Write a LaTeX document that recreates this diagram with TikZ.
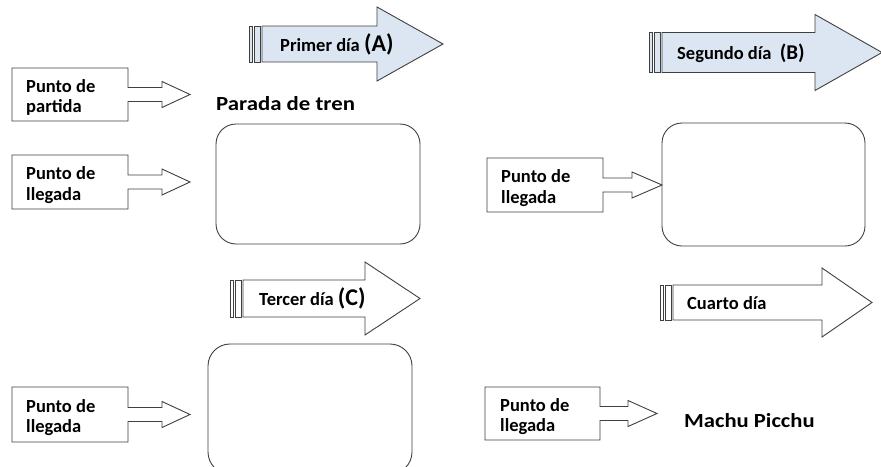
\documentclass[tikz,border=0pt]{standalone}
\usepackage{graphicx}
\usepackage{fontspec}
\setmainfont{Carlito}
\definecolor{arrowblue}{RGB}{220,230,242}
\definecolor{linegray}{RGB}{64,64,64}
\tikzset{
  ol/.style={draw=linegray, line width=0.9pt, line join=miter},
  lbl/.style={inner sep=0pt, font=\bfseries\fontsize{18.5}{20.5}\selectfont},
  calltext/.style={lbl, anchor=west, align=left},
  roundbox/.style={draw=linegray, line width=0.9pt, rounded corners=20pt, minimum width=204pt, inner sep=0pt},
}
% striped arrow: #1 x0, #2 head base x, #3 tip x, #4 yc, #5 body half h, #6 head half h, #7 fill
\newcommand\stripedarrow[7]{%
  \path[ol, fill=#7] (#1,#4-#5) rectangle (#1+3,#4+#5);
  \path[ol, fill=#7] (#1+5,#4-#5) rectangle (#1+11,#4+#5);
  \path[ol, fill=#7] (#1+13,#4-#5) -- (#2,#4-#5) -- (#2,#4-#6) -- (#3,#4)
     -- (#2,#4+#6) -- (#2,#4+#5) -- (#1+13,#4+#5) -- cycle;
}
% callout: #1 x1, #2 y1, #3 x2, #4 y2, #5 head base x, #6 tip x
\newcommand\callarrow[6]{%
  \path[ol, fill=white] (#1,#2) -- (#3,#2) -- (#3,{(#2+#4)/2-7}) -- (#5,{(#2+#4)/2-7})
     -- (#5,{(#2+#4)/2-13}) -- (#6,{(#2+#4)/2}) -- (#5,{(#2+#4)/2+13})
     -- (#5,{(#2+#4)/2+7}) -- (#3,{(#2+#4)/2+7}) -- (#3,#4) -- (#1,#4) -- cycle;
}
\begin{document}
\begin{tikzpicture}[x=1pt,y=-1pt]
\useasboundingbox (0,0) rectangle (881,466);
\clip (0,0) rectangle (881,466);
\fill[white] (0,0) rectangle (881,466);

% big striped arrows
\stripedarrow{249}{377}{443}{44}{18}{37}{arrowblue}
\node[lbl, anchor=base west] (dayA) at (280,51) {Primer día {\fontsize{24}{26}\selectfont(A)}};

\stripedarrow{649}{815}{882}{52.5}{20}{38}{arrowblue}
\node[lbl, anchor=base west] (dayB) at (677,59) {Segundo día \ {\fontsize{21}{23}\selectfont(B)}};

\stripedarrow{230}{365}{420}{298.5}{18.5}{36.5}{white}
\node[lbl, anchor=base west] (dayC) at (259,305) {Tercer día {\fontsize{24}{26}\selectfont(C)}};

\stripedarrow{660}{822}{872}{302.5}{17.5}{34.5}{white}
\node[lbl, anchor=base west] (dayD) at (687,309) {Cuarto día};

% callouts
\callarrow{12}{68}{128}{121}{162}{190}
\node[calltext] (c1) at (26,97.5) {Punto de\\partida};

\callarrow{12}{155}{128}{209}{162}{190}
\node[calltext] (c2) at (26,185) {Punto de\\llegada};

\callarrow{487}{158}{603}{212}{632}{662}
\node[calltext] (c3) at (501,188) {Punto de\\llegada};

\callarrow{12}{387}{128}{442}{162}{190}
\node[calltext] (c4) at (26,417.5) {Punto de\\llegada};

\callarrow{485}{387}{600}{440}{628}{657}
\node[calltext] (c5) at (500,416.5) {Punto de\\llegada};

% rounded boxes
\node[roundbox, minimum height=120pt] (r1) at (318,184) {};
\node[roundbox, minimum width=203pt, minimum height=123pt] (r2) at (763.5,184.5) {};
\node[roundbox, minimum height=130pt, rounded corners=22pt] (r3) at (310,409) {};

% titles
\node[inner sep=0pt, anchor=base west, font=\bfseries\fontsize{20}{22}\selectfont] (parada) at (216,110) {\scalebox{1.14}[1]{Parada de tren}};
\node[inner sep=0pt, anchor=base west, font=\bfseries\fontsize{20}{22}\selectfont] (machu) at (684,427) {\scalebox{1.13}[1]{Machu Picchu}};
\end{tikzpicture}
\end{document}
